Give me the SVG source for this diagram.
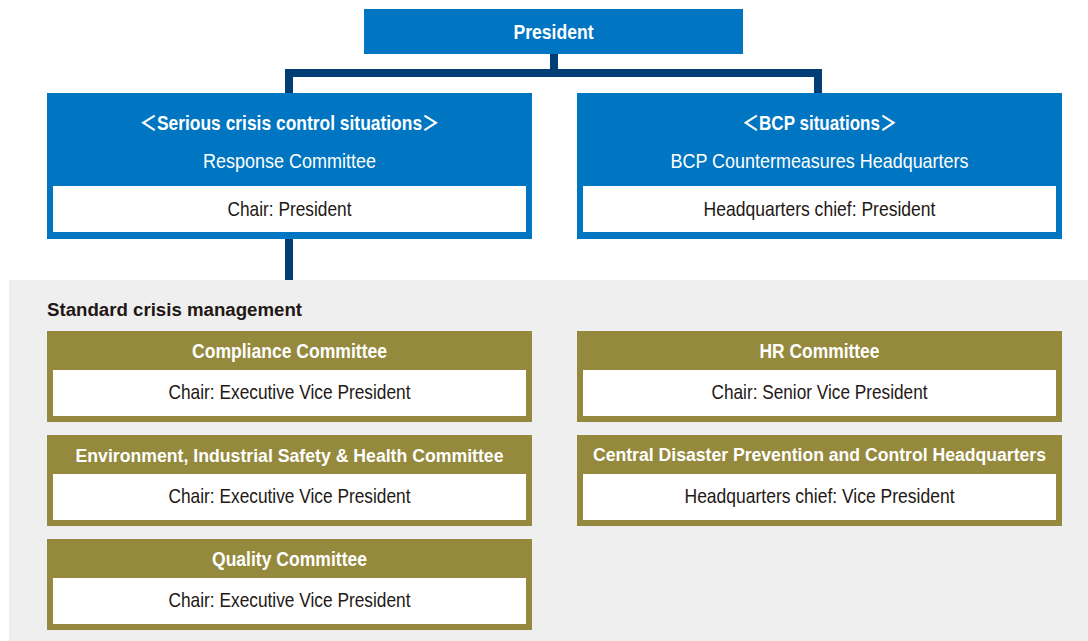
<svg xmlns="http://www.w3.org/2000/svg" width="1088" height="641" viewBox="0 0 1088 641">
<defs>
<style>
.bg{fill:#EFEFEF}
.blue{fill:#0075C2}
.olive{fill:#94893C}
.inner{fill:#FFFFFF}
.conn{fill:none;stroke:#003E75;stroke-width:8;stroke-linejoin:miter;stroke-linecap:butt}
text{font-family:"Liberation Sans","Noto Sans CJK JP",sans-serif;font-size:21px;text-anchor:middle}
.hd{fill:#FFFFFF;font-weight:bold}
.sub{fill:#FFFFFF}
.body{fill:#231815}
.sec{font-weight:bold;font-size:18px;fill:#231815;text-anchor:start}
.long{font-size:19px}
.vlong{font-size:18px}
</style>
</defs>
<rect class="bg" x="9" y="280" width="1079" height="361"/>
<g id="connectors">
<path class="conn" d="M554,54 V73"/>
<path class="conn" d="M289,93 V73 H818 V93"/>
<path class="conn" d="M289,239 V280"/>
</g>
<g id="president">
<rect class="blue" x="364" y="9" width="379" height="45"/>
<text class="hd" x="553.5" y="39" textLength="80" lengthAdjust="spacingAndGlyphs">President</text>
</g>
<g id="response-committee">
<rect class="blue" x="47" y="93" width="485" height="146"/>
<rect class="inner" x="53" y="186" width="473" height="46"/>
<text class="hd" x="289.5" y="130" textLength="300" lengthAdjust="spacingAndGlyphs">＜Serious crisis control situations＞</text>
<text class="sub" x="289.5" y="168" textLength="173" lengthAdjust="spacingAndGlyphs">Response Committee</text>
<text class="body" x="289.5" y="216" textLength="124" lengthAdjust="spacingAndGlyphs">Chair: President</text>
</g>
<g id="bcp-headquarters">
<rect class="blue" x="577" y="93" width="485" height="146"/>
<rect class="inner" x="583" y="186" width="473" height="46"/>
<text class="hd" x="819.5" y="130" textLength="155" lengthAdjust="spacingAndGlyphs">＜BCP situations＞</text>
<text class="sub" x="819.5" y="168" textLength="298" lengthAdjust="spacingAndGlyphs">BCP Countermeasures Headquarters</text>
<text class="body" x="819.5" y="216" textLength="232" lengthAdjust="spacingAndGlyphs">Headquarters chief: President</text>
</g>
<text class="sec" x="47" y="316" textLength="255" lengthAdjust="spacingAndGlyphs">Standard crisis management</text>
<g id="compliance-committee">
<rect class="olive" x="47" y="331" width="485" height="91"/>
<rect class="inner" x="53" y="370" width="473" height="46"/>
<text class="hd" x="289.5" y="358" textLength="195" lengthAdjust="spacingAndGlyphs">Compliance Committee</text>
<text class="body" x="289.5" y="399" textLength="242" lengthAdjust="spacingAndGlyphs">Chair: Executive Vice President</text>
</g>
<g id="environment-committee">
<rect class="olive" x="47" y="435" width="485" height="91"/>
<rect class="inner" x="53" y="474" width="473" height="46"/>
<text class="hd long" x="289.5" y="462" textLength="428" lengthAdjust="spacingAndGlyphs">Environment, Industrial Safety &amp; Health Committee</text>
<text class="body" x="289.5" y="503" textLength="242" lengthAdjust="spacingAndGlyphs">Chair: Executive Vice President</text>
</g>
<g id="quality-committee">
<rect class="olive" x="47" y="539" width="485" height="91"/>
<rect class="inner" x="53" y="578" width="473" height="46"/>
<text class="hd" x="289.5" y="566" textLength="155" lengthAdjust="spacingAndGlyphs">Quality Committee</text>
<text class="body" x="289.5" y="607" textLength="242" lengthAdjust="spacingAndGlyphs">Chair: Executive Vice President</text>
</g>
<g id="hr-committee">
<rect class="olive" x="577" y="331" width="485" height="91"/>
<rect class="inner" x="583" y="370" width="473" height="46"/>
<text class="hd" x="819.5" y="358" textLength="120" lengthAdjust="spacingAndGlyphs">HR Committee</text>
<text class="body" x="819.5" y="399" textLength="216" lengthAdjust="spacingAndGlyphs">Chair: Senior Vice President</text>
</g>
<g id="central-disaster-hq">
<rect class="olive" x="577" y="435" width="485" height="91"/>
<rect class="inner" x="583" y="474" width="473" height="46"/>
<text class="hd vlong" x="819.5" y="461" textLength="453" lengthAdjust="spacingAndGlyphs">Central Disaster Prevention and Control Headquarters</text>
<text class="body" x="819.5" y="503" textLength="270" lengthAdjust="spacingAndGlyphs">Headquarters chief: Vice President</text>
</g>
</svg>
